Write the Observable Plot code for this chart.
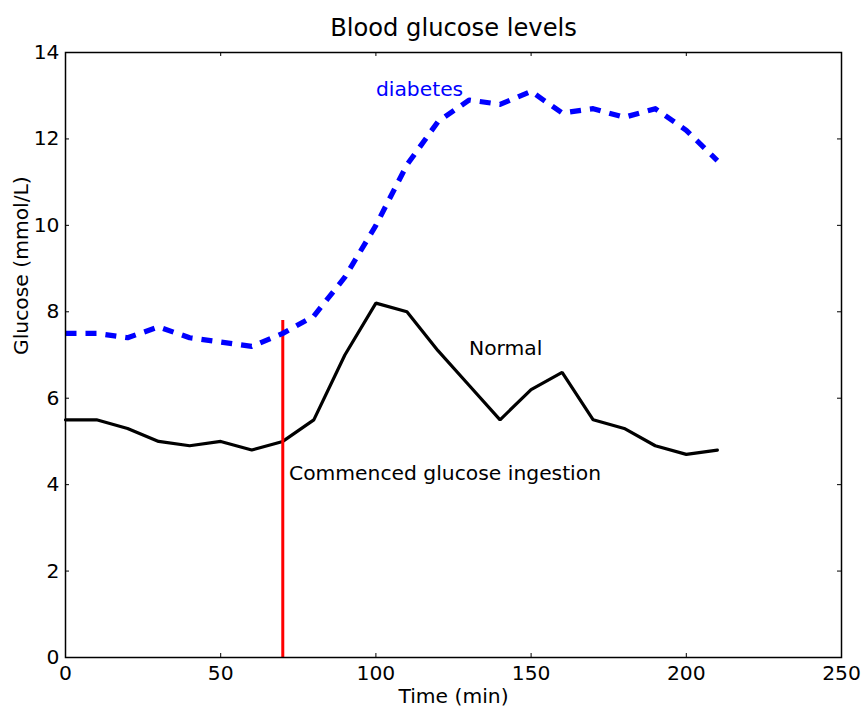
<!DOCTYPE html>
<html>
<head>
<meta charset="utf-8">
<script src="https://cdn.jsdelivr.net/npm/d3@7"></script>
<script src="https://cdn.jsdelivr.net/npm/@observablehq/plot@0.6"></script>
<style>
  html, body { margin: 0; padding: 0; background: #fff; }
  svg { display: block; }
</style>
</head>
<body>
<div id="chart"></div>
<script>
// Sampling times (minutes) and glucose readings (mmol/L)
const times = [0, 10, 20, 30, 40, 50, 60, 70, 80, 90, 100, 110, 120, 130, 140, 150, 160, 170, 180, 190, 200, 210];
const normal = [5.5, 5.5, 5.3, 5.0, 4.9, 5.0, 4.8, 5.0, 5.5, 7.0, 8.2, 8.0, 7.1, 6.3, 5.5, 6.2, 6.6, 5.5, 5.3, 4.9, 4.7, 4.8];
const diabetes = [7.5, 7.5, 7.4, 7.65, 7.4, 7.3, 7.2, 7.5, 7.9, 8.8, 10.0, 11.4, 12.4, 12.9, 12.8, 13.1, 12.6, 12.7, 12.5, 12.7, 12.2, 11.5];

// Moment glucose ingestion started
const ingestionTime = [70];
const ingestionTop = [7.8];

const xTicks = [0, 50, 100, 150, 200, 250];
const yTicks = [0, 2, 4, 6, 8, 10, 12, 14];

const labels = [
  {text: "diabetes", x: 100, y: 13, color: "#0000ff"},
  {text: "Normal", x: 130, y: 7, color: "#000000"},
  {text: "Commenced glucose ingestion", x: 72, y: 4.1, color: "#000000"}
];

const normalRows = times.map((t, i) => ({t, v: normal[i]}));
const diabetesRows = times.map((t, i) => ({t, v: diabetes[i]}));

const W = 861, H = 706;
const mL = 65, mR = 20, mT = 52, mB = 49;
const fw = W - mL - mR, fh = H - mT - mB;
const font = "DejaVu Sans, sans-serif";
const fs = 20.3;

const chart = Plot.plot({
  width: W,
  height: H,
  marginLeft: mL,
  marginRight: mR,
  marginTop: mT,
  marginBottom: mB,
  style: {fontFamily: font, background: "#fff", color: "#000"},
  x: {domain: [0, 250]},
  y: {domain: [0, 14]},
  marks: [
    // tick labels
    Plot.axisX({ticks: xTicks, tickSize: 0, tickPadding: 8, fontSize: fs, label: null, tickFormat: d => String(d)}),
    Plot.axisY({ticks: yTicks, tickSize: 0, tickPadding: 6, fontSize: fs, label: null, tickFormat: d => String(d)}),
    // inward ticks on all four sides
    Plot.tickX(xTicks, {x: d => d, insetTop: fh - 4, stroke: "#000", strokeWidth: 1}),
    Plot.tickX(xTicks, {x: d => d, insetBottom: fh - 4, stroke: "#000", strokeWidth: 1}),
    Plot.tickY(yTicks, {y: d => d, insetRight: fw - 4, stroke: "#000", strokeWidth: 1}),
    Plot.tickY(yTicks, {y: d => d, insetLeft: fw - 4, stroke: "#000", strokeWidth: 1}),
    // series
    Plot.line(normalRows, {x: "t", y: "v", stroke: "#000", strokeWidth: 3.2, strokeLinejoin: "miter"}),
    Plot.ruleX(ingestionTime, {x: d => d, y1: 0, y2: ingestionTop[0], stroke: "#ff0000", strokeWidth: 3}),
    Plot.line(diabetesRows, {x: "t", y: "v", stroke: "#0000ff", strokeWidth: 5.2, strokeDasharray: "11,9", strokeLinecap: "butt"}),
    // annotations
    Plot.text(labels, {x: "x", y: "y", text: "text", fill: "color", textAnchor: "start", lineAnchor: "bottom", fontSize: fs}),
    // frame
    Plot.frame({stroke: "#000", strokeWidth: 1.5}),
    // title and axis labels
    Plot.text(["Blood glucose levels"], {frameAnchor: "top", dy: -17, lineAnchor: "bottom", fontSize: 24.2, text: d => d}),
    Plot.text(["Time (min)"], {frameAnchor: "bottom", dy: 45, lineAnchor: "bottom", fontSize: fs, text: d => d}),
    Plot.text(["Glucose (mmol/L)"], {frameAnchor: "left", dx: -44, rotate: -90, lineAnchor: "middle", fontSize: fs, text: d => d})
  ]
});

document.getElementById("chart").appendChild(chart);
</script>
</body>
</html>
